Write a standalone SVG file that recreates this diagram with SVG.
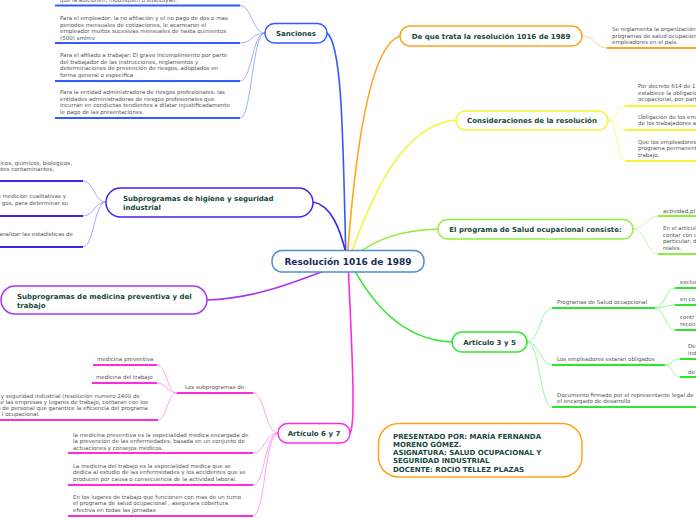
<svg xmlns="http://www.w3.org/2000/svg" width="696" height="520" viewBox="0 0 696 520">
<style>
text{font-family:"DejaVu Sans","Verdana",sans-serif}
.lbl{font-size:7px;font-weight:bold;fill:#17483a}
.ctr{font-size:9px;font-weight:bold;fill:#1b2a5c}
.t{font-size:5.5px;fill:#555}
.box{fill:#fff;stroke-width:1.5}
.main{fill:none;stroke-width:1.6}
.sub{fill:none;stroke-width:0.9}
.ul{stroke-width:2;fill:none}
</style>
<rect width="696" height="520" fill="#fff"/>
<g id="connectors">
  <path class="main" stroke="#2f5bff" d="M346,262 C343,150 343,45 327,33"/>
  <path class="main" stroke="#ffa31a" d="M347,262 C355,150 370,45 400,36"/>
  <path class="main" stroke="#f5f53a" d="M348,262 C370,200 400,125 456,120"/>
  <path class="main" stroke="#8ef03c" d="M348,262 C370,240 400,230 438,229"/>
  <path class="main" stroke="#2ee62e" d="M350,262 C370,300 400,340 452,342"/>
  <path class="main" stroke="#ff2bdd" d="M348,262 C352,350 356,425 350,433"/>
  <path class="main" stroke="#aa33ee" d="M348,262 C300,280 260,298 207,300"/>
  <path class="main" stroke="#4422ee" d="M348,262 C340,225 330,205 313,202"/>
  <!-- Sanciones children -->
  <g stroke="#8fa8ff">
    <path class="sub" d="M265,33 C252,33 252,5.5 240,5.5"/>
    <path class="sub" d="M265,33 C252,33 252,43 240,43"/>
    <path class="sub" d="M265,33 C252,33 252,81 240,81"/>
    <path class="sub" d="M265,33 C252,33 252,118 240,118"/>
  </g>
  <path class="sub" stroke="#ffc880" d="M582,36 C595,36 595,48 607,48"/>
  <g stroke="#f7f78a">
    <path class="sub" d="M608,120 C617,120 617,106 625,106"/>
    <path class="sub" d="M608,120 C617,120 617,130 625,130"/>
    <path class="sub" d="M608,120 C617,120 617,161 625,161"/>
  </g>
  <g stroke="#bff59a">
    <path class="sub" d="M633,229 C646,229 646,216 658,216"/>
    <path class="sub" d="M633,229 C646,229 646,254 658,254"/>
  </g>
  <g stroke="#8ff58f">
    <path class="sub" d="M527,342 C540,342 540,308 552,308"/>
    <path class="sub" d="M527,342 C540,342 540,365 552,365"/>
    <path class="sub" d="M527,342 C540,342 540,407 552,407"/>
    <path class="sub" d="M655,308 C665,308 665,288 675,288"/>
    <path class="sub" d="M655,308 C665,308 665,305 675,305"/>
    <path class="sub" d="M655,308 C665,308 665,330 675,330"/>
    <path class="sub" d="M665,365 C672,365 672,359 680,359"/>
    <path class="sub" d="M665,365 C672,365 672,377 680,377"/>
  </g>
  <g stroke="#a898ff">
    <path class="sub" d="M106,202 C94,202 94,181 83,181"/>
    <path class="sub" d="M106,202 C94,202 94,216 83,216"/>
    <path class="sub" d="M106,202 C94,202 94,247 83,247"/>
  </g>
  <g stroke="#ff99ee">
    <path class="sub" d="M278,433 C265,433 265,393 253,393"/>
    <path class="sub" d="M278,433 C265,433 265,453 253,453"/>
    <path class="sub" d="M278,433 C265,433 265,485 253,485"/>
    <path class="sub" d="M278,433 C265,433 265,516 253,516"/>
    <path class="sub" d="M177,393 C167,393 167,365 157,365"/>
    <path class="sub" d="M177,393 C167,393 167,383 157,383"/>
    <path class="sub" d="M177,393 C167,393 167,420 158,420"/>
  </g>
</g>

<g id="central">
  <rect class="box" x="272" y="250.5" width="152" height="21.5" rx="10" stroke="#4a90d0"/>
  <text class="ctr" x="348" y="265" text-anchor="middle">Resolución 1016 de 1989</text>
</g>

<g id="sanciones">
  <rect class="box" x="265" y="23.5" width="62" height="19.5" rx="9.5" stroke="#2f5bff"/>
  <text class="lbl" x="296" y="35.5" text-anchor="middle">Sanciones</text>
</g>
<g id="sanciones-1">
  <text class="t" x="60" y="1.5">que la adicionen, modifiquen o sustituyan.</text>
  <line class="ul" stroke="#2f5bff" x1="55" y1="5.5" x2="240" y2="5.5"/>
</g>
<g id="sanciones-2">
  <text class="t" x="60" y="20">Para el empleador: la no afiliación y el no pago de dos o mas</text>
  <text class="t" x="60" y="26.6">periodos  mensuales de cotizaciones,  le acarrearon el</text>
  <text class="t" x="60" y="33.2">empleador multos sucesivas mensuales de hasta quinientos</text>
  <text class="t" x="60" y="39.8">(500) smlmv</text>
  <line class="ul" stroke="#2f5bff" x1="55" y1="43" x2="240" y2="43"/>
</g>
<g id="sanciones-3">
  <text class="t" x="60" y="57">Para el afiliado a trabajar: El grave incumplimiento por parte</text>
  <text class="t" x="60" y="63.6">del trabajador de las instrucciones, reglamentos y</text>
  <text class="t" x="60" y="70.2">determinaciones de prevención de riesgos, adoptados en</text>
  <text class="t" x="60" y="76.8">forma general o  especifica</text>
  <line class="ul" stroke="#2f5bff" x1="55" y1="81" x2="240" y2="81"/>
</g>
<g id="sanciones-4">
  <text class="t" x="60" y="94">Para la entidad administradora de riesgos profesionales: las</text>
  <text class="t" x="60" y="100.6">entidades administradoras de riesgos profesionales que</text>
  <text class="t" x="60" y="107.2">incurran en conductas tendientes a dilatar injustificadamente</text>
  <text class="t" x="60" y="113.8">le pago  de las presentaciones.</text>
  <line class="ul" stroke="#2f5bff" x1="55" y1="118" x2="240" y2="118"/>
</g>

<g id="de-que-trata">
  <rect class="box" x="400" y="26" width="182" height="20" rx="10" stroke="#ffa31a"/>
  <text class="lbl" x="491" y="38.5" text-anchor="middle">De que trata la resolución 1016 de 1989</text>
</g>
<g id="de-que-trata-1">
  <text class="t" x="612" y="31">Se reglamenta la organización</text>
  <text class="t" x="612" y="37.6">programas de salud ocupacion</text>
  <text class="t" x="612" y="44.2">empleadores en el país.</text>
  <line class="ul" stroke="#ffa31a" x1="607" y1="48" x2="696" y2="48"/>
</g>

<g id="consideraciones">
  <rect class="box" x="456" y="111" width="152" height="19" rx="9.5" stroke="#f5f53a"/>
  <text class="lbl" x="532" y="123" text-anchor="middle">Consideraciones de la resolución</text>
</g>
<g id="consideraciones-1">
  <text class="t" x="638" y="88">Por decreto 614 de 1</text>
  <text class="t" x="638" y="94.6">establece la obligació</text>
  <text class="t" x="638" y="101.2">ocupacional, por part</text>
  <line class="ul" stroke="#f5f53a" x1="625" y1="106" x2="696" y2="106"/>
</g>
<g id="consideraciones-2">
  <text class="t" x="638" y="118.5">Obligación de los em</text>
  <text class="t" x="638" y="125.1">de los trabajadores a</text>
  <line class="ul" stroke="#f5f53a" x1="625" y1="130" x2="696" y2="130"/>
</g>
<g id="consideraciones-3">
  <text class="t" x="638" y="143.5">Que los empleadores</text>
  <text class="t" x="638" y="150.1">programa permanent</text>
  <text class="t" x="638" y="156.7">trabajo.</text>
  <line class="ul" stroke="#f5f53a" x1="625" y1="161" x2="696" y2="161"/>
</g>

<g id="programa">
  <rect class="box" x="438" y="219.5" width="195" height="19.5" rx="9.5" stroke="#8ef03c"/>
  <text class="lbl" x="535.5" y="231.5" text-anchor="middle">El programa de Salud ocupacional consiste:</text>
</g>
<g id="programa-1">
  <text class="t" x="663" y="212.5">actividad,pl</text>
  <line class="ul" stroke="#8ef03c" x1="658" y1="216" x2="696" y2="216"/>
</g>
<g id="programa-2">
  <text class="t" x="663" y="230">En el articul</text>
  <text class="t" x="663" y="236.5">contar con u</text>
  <text class="t" x="663" y="243">particular; d</text>
  <text class="t" x="663" y="249.5">reales.</text>
  <line class="ul" stroke="#8ef03c" x1="658" y1="254" x2="696" y2="254"/>
</g>

<g id="articulo-3-5">
  <rect class="box" x="452" y="332" width="75" height="20" rx="10" stroke="#2ee62e"/>
  <text class="lbl" x="489.5" y="344.5" text-anchor="middle">Articulo 3 y 5</text>
</g>
<g id="programas-salud">
  <text class="t" x="557" y="304">Programas de Salud ocuapcional</text>
  <line class="ul" stroke="#2ee62e" x1="552" y1="308" x2="655" y2="308"/>
</g>
<g id="ps-1">
  <text class="t" x="680" y="284">exclus</text>
  <line class="ul" stroke="#2ee62e" x1="675" y1="288" x2="696" y2="288"/>
</g>
<g id="ps-2">
  <text class="t" x="680" y="301">en co</text>
  <line class="ul" stroke="#2ee62e" x1="675" y1="305" x2="696" y2="305"/>
</g>
<g id="ps-3">
  <text class="t" x="680" y="319">contr</text>
  <text class="t" x="680" y="325.5">recon</text>
  <line class="ul" stroke="#2ee62e" x1="675" y1="330" x2="696" y2="330"/>
</g>
<g id="empleadores">
  <text class="t" x="557" y="361">Los empleadores estarán obligados</text>
  <line class="ul" stroke="#2ee62e" x1="552" y1="365" x2="665" y2="365"/>
</g>
<g id="emp-1">
  <text class="t" x="688" y="348">De</text>
  <text class="t" x="688" y="354.5">ind</text>
  <line class="ul" stroke="#2ee62e" x1="680" y1="359" x2="696" y2="359"/>
</g>
<g id="emp-2">
  <text class="t" x="688" y="373.5">de</text>
  <line class="ul" stroke="#2ee62e" x1="680" y1="377" x2="696" y2="377"/>
</g>
<g id="documento">
  <text class="t" x="557" y="396.5">Documento firmado por el representante legal de</text>
  <text class="t" x="557" y="403">el encargado de desarrollo</text>
  <line class="ul" stroke="#2ee62e" x1="552" y1="407" x2="696" y2="407"/>
</g>

<g id="higiene">
  <rect class="box" x="106" y="188" width="207" height="29" rx="14.5" stroke="#4422ee"/>
  <text class="lbl" x="123" y="201">Subprogramas de higiene y seguridad</text>
  <text class="lbl" x="123" y="210">industrial</text>
</g>
<g id="higiene-1">
  <text class="t" x="72" y="164.5" text-anchor="end">icos, quimicos, biologicos,</text>
  <text class="t" x="54" y="170.5" text-anchor="end">ntes contaminantes,</text>
  <line class="ul" stroke="#4422ee" x1="0" y1="181" x2="83" y2="181"/>
</g>
<g id="higiene-2">
  <text class="t" x="66" y="198" text-anchor="end">n medición cualitativas y</text>
  <text class="t" x="68" y="204.5" text-anchor="end">gos, para determinar su</text>
  <line class="ul" stroke="#4422ee" x1="0" y1="216" x2="83" y2="216"/>
</g>
<g id="higiene-3">
  <text class="t" x="73" y="235.5" text-anchor="end">analizar las estadisticas de</text>
  <line class="ul" stroke="#4422ee" x1="0" y1="247" x2="83" y2="247"/>
</g>

<g id="medicina">
  <rect class="box" x="1" y="286" width="206" height="28" rx="14" stroke="#aa33ee"/>
  <text class="lbl" x="17" y="299">Subprogramas de medicina preventiva y del</text>
  <text class="lbl" x="17" y="307.5">trabajo</text>
</g>

<g id="articulo-6-7">
  <rect class="box" x="278" y="423.5" width="72" height="19.5" rx="9.5" stroke="#ff2bdd"/>
  <text class="lbl" x="314" y="435.5" text-anchor="middle">Artículo 6 y 7</text>
</g>
<g id="los-subprogramas">
  <text class="t" x="185" y="388.5">Los subprogramas de:</text>
  <line class="ul" stroke="#ff2bdd" x1="177" y1="393" x2="253" y2="393"/>
</g>
<g id="ls-1">
  <text class="t" x="97" y="361">medicina preventiva</text>
  <line class="ul" stroke="#ff2bdd" x1="93" y1="365" x2="157" y2="365"/>
</g>
<g id="ls-2">
  <text class="t" x="96" y="379">medicina del trabajo</text>
  <line class="ul" stroke="#ff2bdd" x1="92" y1="383" x2="157" y2="383"/>
</g>
<g id="ls-3">
  <text class="t" x="140" y="397.5" text-anchor="end">y seguridad industrial (resolución numero 2400 de</text>
  <text class="t" x="148" y="403.5" text-anchor="end">e las empresas y lugares de trabajo, contaran con los</text>
  <text class="t" x="148" y="409.5" text-anchor="end">s de personal que garantice la eficiencia del programa</text>
  <text class="t" x="40" y="415.5" text-anchor="end">l ocupacional.</text>
  <line class="ul" stroke="#ff2bdd" x1="0" y1="420" x2="158" y2="420"/>
</g>
<g id="a67-1">
  <text class="t" x="73" y="436.5">la medicina preventiva es la especialidad medica encargada de</text>
  <text class="t" x="73" y="443">la prevención de las enfermedades, basada en un conjunto de</text>
  <text class="t" x="73" y="449.5">actuaciones y consejos médicos.</text>
  <line class="ul" stroke="#ff2bdd" x1="68" y1="453" x2="253" y2="453"/>
</g>
<g id="a67-2">
  <text class="t" x="73" y="467.5">La medicina del trabajo es la especialidad medica que se</text>
  <text class="t" x="73" y="474">dedica al estudio de las enfermedades y los accidentes que se</text>
  <text class="t" x="73" y="480.5">producen por causa o consecuencia de la actividad laboral.</text>
  <line class="ul" stroke="#ff2bdd" x1="68" y1="485" x2="253" y2="485"/>
</g>
<g id="a67-3">
  <text class="t" x="73" y="498.5">En los lugares de trabajo que funcionen con mas de un turno</text>
  <text class="t" x="73" y="505">el programa de salud ocupacional , asegurara cobertura</text>
  <text class="t" x="73" y="511.5">efectiva en todas las jornadas</text>
  <line class="ul" stroke="#ff2bdd" x1="68" y1="516" x2="253" y2="516"/>
</g>

<g id="presentado">
  <rect class="box" x="378.5" y="423.5" width="203.5" height="53.5" rx="20" stroke="#ffa31a"/>
  <text class="lbl" x="393" y="438.5">PRESENTADO POR: MARÍA FERNANDA</text>
  <text class="lbl" x="393" y="446.8">MORENO GÓMEZ.</text>
  <text class="lbl" x="393" y="455.1">ASIGNATURA: SALUD OCUPACIONAL Y</text>
  <text class="lbl" x="393" y="463.4">SEGURIDAD INDUSTRIAL</text>
  <text class="lbl" x="393" y="471.7">DOCENTE: ROCIO TELLEZ PLAZAS</text>
</g>
</svg>
